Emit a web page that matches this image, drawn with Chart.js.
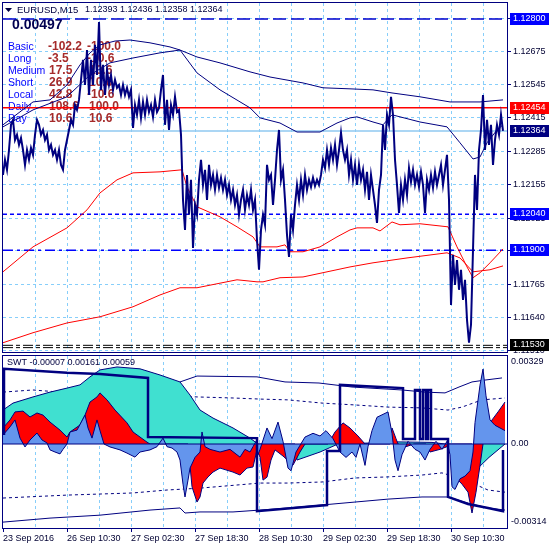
<!DOCTYPE html>
<html>
<head>
<meta charset="utf-8">
<script src="https://cdn.jsdelivr.net/npm/chart.js@4.4.1/dist/chart.umd.min.js"></script>
<style>
  body { margin: 0; background: #fff; }
  #wrap { position: relative; width: 550px; height: 550px; }
  canvas { position: absolute; left: 0; }
</style>
</head>
<body>
<div id="wrap">
  <canvas id="main" width="550" height="353" style="top:0"></canvas>
  <canvas id="sub" width="550" height="197" style="top:353px"></canvas>
</div>
<script>
// EURUSD M15, one close every 2 bars, bar 0 = 23 Sep 2016
const closeStep = 2;
const closes = [
  1.12193,1.12252,1.12213,1.12290,1.12388,1.12407,1.12329,1.12349,1.12310,1.12337,
  1.12290,1.12232,1.12290,1.12252,1.12298,1.12271,1.12349,1.12407,1.12388,1.12349,
  1.12368,1.12329,1.12349,1.12290,1.12310,1.12271,1.12290,1.12252,1.12290,1.12232,
  1.12213,1.12290,1.12329,1.12368,1.12407,1.12388,1.12465,1.12446,1.12485,1.12563,
  1.12641,1.12543,1.12679,1.12504,1.12641,1.12543,1.12699,1.12582,1.12788,1.12524,
  1.12621,1.12504,1.12602,1.12543,1.12582,1.12524,1.12563,1.12532,1.12543,1.12504,
  1.12543,1.12504,1.12532,1.12497,1.12524,1.12376,1.12465,1.12427,1.12485,1.12415,
  1.12477,1.12427,1.12485,1.12438,1.12465,1.12419,1.12485,1.12438,1.12454,1.12524,
  1.12582,1.12388,1.12485,1.12368,1.12465,1.12427,1.12497,1.12438,1.12446,1.12349,
  1.12096,1.11979,1.12193,1.12038,1.12174,1.11909,1.12076,1.12038,1.12174,1.12252,
  1.12154,1.12213,1.12096,1.12232,1.12154,1.12193,1.12135,1.12193,1.12143,1.12182,
  1.12135,1.12174,1.12115,1.12154,1.12096,1.12135,1.12076,1.12115,1.12038,1.12096,
  1.12135,1.12057,1.12115,1.12076,1.12135,1.12057,1.12096,1.11940,1.11824,1.11979,
  1.12038,1.11999,1.12232,1.12174,1.12193,1.12076,1.12174,1.12290,1.12368,1.12174,
  1.12213,1.12096,1.11960,1.11874,1.12038,1.11979,1.12076,1.12154,1.12096,1.12174,
  1.12115,1.12193,1.12135,1.12174,1.12146,1.12182,1.12150,1.12174,1.12154,1.12193,
  1.12252,1.12220,1.12290,1.12232,1.12298,1.12252,1.12310,1.12232,1.12290,1.12357,
  1.12290,1.12252,1.12290,1.12193,1.12252,1.12174,1.12232,1.12154,1.12232,1.12174,
  1.12213,1.12135,1.12205,1.12096,1.12193,1.12135,1.12076,1.12006,1.12135,1.12193,
  1.12388,1.12290,1.12427,1.12388,1.12497,1.12427,1.12252,1.12154,1.12045,1.12154,
  1.12096,1.12174,1.12115,1.12220,1.12166,1.12213,1.12154,1.12193,1.12146,1.12205,
  1.12154,1.12045,1.12174,1.12135,1.12193,1.12143,1.12205,1.12154,1.12193,1.12232,
  1.12154,1.12213,1.12271,1.12096,1.11687,1.11882,1.11765,1.11862,1.11746,1.11824,
  1.11707,1.11785,1.11629,1.11540,1.11610,1.11901,1.12193,1.12057,1.12290,1.12368,
  1.12504,1.12290,1.12407,1.12310,1.12388,1.12232,1.12329,1.12388,1.12349,1.12427,
  1.12364
];

const maFastBars = [0,30,47,64,77,87,97,112,127,147,167,177,194,217,247,257,277,294,317,334,347,354,370,380,389,417,444,457,470,477,484,494,500];
const maFastVals = [1.12388,1.12477,1.12485,1.12543,1.12621,1.12668,1.12699,1.12714,1.12718,1.12707,1.12691,1.12679,1.12590,1.12524,1.12454,1.12415,1.12395,1.12360,1.12360,1.12395,1.12415,1.12419,1.12399,1.12388,1.12427,1.12399,1.12380,1.12318,1.12255,1.12263,1.12318,1.12368,1.12388];
const maSlowBars = [0,30,64,87,107,130,157,177,194,217,247,267,300,320,347,370,389,417,447,477,500];
const maSlowVals = [1.12380,1.12446,1.12497,1.12582,1.12629,1.12648,1.12668,1.12679,1.12652,1.12629,1.12594,1.12574,1.12551,1.12532,1.12528,1.12524,1.12512,1.12497,1.12477,1.12477,1.12485];
const redFastBars = [0,30,64,84,97,114,130,157,179,184,194,217,234,250,257,274,282,287,300,317,334,347,354,370,377,389,397,417,445,454,464,470,477,487,500];
const redFastVals = [1.11816,1.11913,1.11987,1.12057,1.12123,1.12174,1.12201,1.12205,1.12213,1.12146,1.12069,1.12030,1.11991,1.11952,1.11913,1.11913,1.11921,1.11894,1.11894,1.11913,1.11952,1.11979,1.11987,1.11987,1.11975,1.12010,1.11999,1.12003,1.11991,1.11913,1.11835,1.11793,1.11812,1.11851,1.11905];
const redSlowBars = [0,30,64,97,130,157,177,194,234,254,260,277,300,347,370,404,444,457,470,487,500];
const redSlowVals = [1.11540,1.11579,1.11617,1.11641,1.11680,1.11726,1.11754,1.11754,1.11785,1.11777,1.11777,1.11793,1.11796,1.11835,1.11851,1.11870,1.11890,1.11870,1.11816,1.11824,1.11839];

const priceTicks = [1.12800,1.12675,1.12545,1.12415,1.12285,1.12155,1.12025,1.11900,1.11765,1.11640,1.11510];
const levels = [1.12800,1.12454,1.12364,1.12040,1.11900,1.11530];
const quote = [1.12393,1.12436,1.12358,1.12364];
const spread = 0.00497;
const tableNames = ['Basic','Long','Medium','Short','Local','Daily','Day'];
const tableA = [-102.2,-3.5,17.5,26.9,42.8,108.6,10.6];
const tableB = [-100.0,-10.6,10.6,10.6,-10.6,100.0,10.6];

// SWT sub window
const swtValues = [-0.00007,0.00161,0.00059];
const swtTicks = [0.00329,0,-0.00314];
const tealBars = [0,10,30,47,64,77,87,97,114,137,157,177,187,197,210,230,247,255,292,294,317,335,369,392,429,442,469,470,486,502];
const tealVals = [0.00127,0.00153,0.00176,0.00194,0.00209,0.00221,0.00251,0.00277,0.00288,0.00281,0.00258,0.00232,0.00183,0.00127,0.00097,0.00060,0.00022,0,0,-0.0006,-0.0003,0,0.00004,0.00008,0.00006,0,0,-0.00108,-0.0005,0];
const redBars = [0,7,12,20,27,34,40,47,57,64,67,77,82,87,94,97,104,112,124,130,144,147,185,189,194,197,200,205,210,217,230,237,244,250,254,257,260,264,268,272,280,290,297,302,325,332,340,347,355,362,387,389,393,395,403,411,423,427,437,444,447,452,459,465,469,473,477,480,485,489,495,502];
const redVals = [0.00060,0.00090,0.00120,0.00123,0.00101,0.00116,0.00108,0.00082,0.00052,0.00026,0.00045,0.00071,0.00108,0.00157,0.00176,0.00191,0.00165,0.00127,0.00079,0.00045,0.00007,0,0,-0.0016,-0.00217,-0.00198,-0.00146,-0.00123,-0.00105,-0.00090,-0.00105,-0.00116,-0.00090,-0.00086,-0.00022,-0.00049,-0.00135,-0.00124,-0.00060,-0.00022,-0.00045,-0.00079,-0.00030,0,0,0.00045,0.00079,0.00060,0.00030,0,0,0.00060,0.0002,0,-0.0001,0,0,-0.0003,-0.0002,-0.0001,0,-0.00123,-0.0015,-0.0018,-0.00258,-0.0018,-0.0008,0,0.0006,0.0009,0.0012,0.00157];
const blueBars = [0,7,12,17,22,27,34,39,44,47,52,57,60,64,67,74,82,85,89,94,97,101,107,117,124,132,137,147,154,160,164,169,174,177,180,182,185,187,192,197,199,202,207,217,227,237,242,247,250,253,255,257,264,269,275,280,285,288,293,302,310,317,323,330,337,343,349,353,357,362,365,369,374,385,389,392,395,399,405,412,417,422,427,433,439,444,447,449,452,457,462,467,470,472,477,480,483,487,492,497,502];
const blueVals = [0.00034,0.00064,0.00090,0.00022,-0.00011,0.00015,0.00041,0.00015,0.00004,-0.00022,-0.0003,-0.00037,-0.0002,0,0.00045,0.00052,0.00108,0.0006,0.00022,0.0009,0.0005,0,-0.00011,-0.00022,-0.00034,-0.00049,-0.0003,-0.00022,-0.0001,0.00022,-0.0001,-0.00015,-0.0003,-0.0006,-0.0015,-0.00198,-0.00135,-0.0009,-0.0005,-0.0003,0.00045,-0.0001,-0.0002,-0.0003,-0.0002,-0.00049,-0.0002,-0.0003,-0.0001,0.0001,-0.0004,-0.0002,0.0006,0.0002,0.00082,0.0001,-0.0009,-0.0010,-0.0003,0.00026,0.0004,0.0003,0.0005,0.0002,-0.0003,-0.0005,-0.0003,-0.0005,0,-0.0008,-0.0001,0.0005,0.0010,0.0012,0.0004,-0.0006,-0.0010,-0.0004,0.0001,-0.0002,-0.0003,-0.0006,-0.0002,0.0001,-0.0002,0.0001,-0.0004,-0.0016,-0.0017,-0.0013,-0.0012,-0.0010,-0.0003,0.0008,0.0022,0.0028,0.0018,0.0009,0.0007,0.0006,0.0005];
const stepBars = [1,1,64,97,145,145,254,254,324,324,337,337,400,400,412,412,417,417,420,420,423,423,425,425,428,428,445,445,465,485,500,500];
const stepVals = [0.00034,0.00281,0.00266,0.00262,0.00247,0.00026,0.00022,-0.00251,-0.00228,-0.00026,-0.00026,0.00221,0.00209,0.00019,0.00019,0.00202,0.00202,0.00019,0.00019,0.00202,0.00202,0.00019,0.00019,0.00202,0.00202,0.00019,0.00019,-0.00198,-0.00224,-0.00239,-0.00251,-0.00022];
const upBandBars = [177,194,254,282,316,349,399,422,442,456,469,482,499];
const upBandVals = [0.00232,0.00254,0.00251,0.00232,0.00228,0.00213,0.00202,0.00194,0.00191,0.00213,0.00232,0.00239,0.00247];
const upDashBars = [0,30,57,120,160,194,230,257,285,319,352,385,419,445,459,479,502];
const upDashVals = [0.00194,0.00202,0.00194,0.00187,0.00180,0.00176,0.00172,0.00168,0.00165,0.00153,0.00146,0.00138,0.00135,0.00127,0.00138,0.00165,0.00172];
const lowDashBars = [0,64,130,164,197,257,285,319,352,385,419,439,452,469,485,502];
const lowDashVals = [-0.00202,-0.00191,-0.00183,-0.00172,-0.00165,-0.00146,-0.00146,-0.00142,-0.00127,-0.00123,-0.00116,-0.00108,-0.00123,-0.00146,-0.00172,-0.00180];
const lowBandBars = [0,47,97,147,177,182,197,230,257,285,319,352,385,419,445,465,485,502];
const lowBandVals = [-0.00292,-0.00277,-0.00266,-0.00247,-0.00239,-0.00258,-0.00254,-0.00254,-0.00247,-0.00239,-0.00228,-0.00217,-0.00206,-0.00198,-0.00198,-0.00221,-0.00239,-0.00247];

const gridBars = [0,32,64,96,128,160,192,224,256,288,320,352,384,416,448,480];
const xLabelBars = [0,64,128,192,256,320,384,448];
const xLabels = ['23 Sep 2016','26 Sep 10:30','27 Sep 02:30','27 Sep 18:30','28 Sep 10:30','29 Sep 02:30','29 Sep 18:30','30 Sep 10:30'];

const NAVY = '#000080';
const GRID = '#87cefa';
const FONT = '"Liberation Sans", Arial, sans-serif';

const pts = (bars, vals) => bars.map((b, i) => ({ x: b, y: vals[i] }));
const flat = (v) => [{ x: 0, y: v }, { x: 504, y: v }];

const frame = {
  id: 'frame',
  afterDraw(chart) {
    const { ctx, chartArea: a } = chart;
    ctx.save();
    ctx.strokeStyle = NAVY;
    ctx.lineWidth = 1;
    ctx.strokeRect(a.left - 0.5, a.top - 0.5, a.right - a.left + 1, a.bottom - a.top + 1);
    ctx.restore();
  }
};

const mainText = {
  id: 'mainText',
  beforeDatasetsDraw(chart) {
    const ctx = chart.ctx;
    ctx.save();
    ctx.textBaseline = 'middle';
    ctx.font = 'bold 14px ' + FONT;
    ctx.fillStyle = '#000050';
    ctx.fillText(spread.toFixed(5), 12, 25);
    tableNames.forEach((n, i) => {
      const ty = 47 + i * 12;
      ctx.font = '10.5px ' + FONT;
      ctx.fillStyle = '#0000ff';
      ctx.fillText(n, 8, ty);
      ctx.font = 'bold 12px ' + FONT;
      ctx.fillStyle = '#a52a2a';
      ctx.fillText(tableA[i].toFixed(1), tableA[i] < 0 ? 48 : 49, ty);
      ctx.fillText(tableB[i].toFixed(1), tableB[i] < 0 ? 87 : 89, ty);
    });
    ctx.restore();
  },
  afterDraw(chart) {
    const ctx = chart.ctx;
    const y = chart.scales.y;
    ctx.save();
    ctx.fillStyle = '#000040';
    ctx.beginPath();
    ctx.moveTo(5, 8); ctx.lineTo(12, 8); ctx.lineTo(8.5, 12); ctx.closePath();
    ctx.fill();
    ctx.font = '9.5px ' + FONT;
    ctx.textBaseline = 'middle';
    ctx.fillText('EURUSD,M15', 17, 10);
    ctx.font = '9px ' + FONT;
    quote.forEach((q, i) => ctx.fillText(q.toFixed(5), 85 + i * 35, 10));
    // price labels on the axis
    const boxColors = ['#0000ff', '#ff0000', '#000080', '#0000ff', '#0000ff', '#000000'];
    levels.forEach((lv, i) => {
      const py = Math.round(y.getPixelForValue(lv));
      ctx.fillStyle = boxColors[i];
      ctx.fillRect(510, py - 6, 39, 12);
      ctx.fillStyle = '#ffffff';
      ctx.fillText(lv.toFixed(5), 513, py);
    });
    ctx.restore();
  }
};

const subText = {
  id: 'subText',
  afterDatasetsDraw(chart) {
    const ctx = chart.ctx;
    ctx.save();
    ctx.font = '9px ' + FONT;
    ctx.fillStyle = '#000040';
    ctx.textBaseline = 'middle';
    ctx.fillText('SWT ' + swtValues.map(v => v.toFixed(5)).join(' '), 7, 10);
    ctx.restore();
  },
  afterDraw(chart) {
    const ctx = chart.ctx;
    const y = chart.scales.y;
    ctx.save();
    ctx.font = '9px ' + FONT;
    ctx.fillStyle = '#000033';
    ctx.textBaseline = 'middle';
    const off = [6, 0, -6];
    swtTicks.forEach((v, i) => {
      ctx.fillText(v === 0 ? '0.00' : v.toFixed(5), 511, y.getPixelForValue(v) + off[i]);
    });
    ctx.restore();
  }
};

const lineDs = (data, color, width, order, dash) => ({
  data, borderColor: color, borderWidth: width, borderDash: dash || [], fill: false, order
});

new Chart(document.getElementById('main').getContext('2d'), {
  type: 'line',
  data: {
    datasets: [
      lineDs(closes.map((c, i) => ({ x: i * closeStep, y: c })), NAVY, 2, 1),
      lineDs(pts(maFastBars, maFastVals), NAVY, 1, 3),
      lineDs(pts(maSlowBars, maSlowVals), NAVY, 1, 3),
      lineDs(pts(redFastBars, redFastVals), '#ff0000', 1, 3),
      lineDs(pts(redSlowBars, redSlowVals), '#ff0000', 1, 3),
      lineDs(flat(levels[0]), '#0000cd', 1.5, 6, [13, 5]),
      lineDs(flat(levels[1]), '#ff0000', 1.5, 6),
      lineDs(flat(levels[2]), '#8fc8f0', 1.5, 6),
      lineDs(flat(levels[3]), '#0000ff', 1.5, 6, [4, 3]),
      lineDs(flat(levels[4]), '#0000ff', 1.5, 6, [10, 4, 3, 4]),
      lineDs(flat(levels[5]), '#000000', 1, 6, [10, 3, 4, 3]),
      lineDs(flat(levels[5] - 0.00009), '#000000', 1, 6, [10, 3, 4, 3])
    ]
  },
  options: {
    responsive: false,
    animation: false,
    devicePixelRatio: 1,
    layout: { padding: { left: 3, top: 3, right: 0, bottom: 1 } },
    elements: { point: { radius: 0 }, line: { tension: 0 } },
    plugins: { legend: { display: false }, tooltip: { enabled: false } },
    scales: {
      x: {
        type: 'linear', min: 0, max: 504,
        afterBuildTicks: s => { s.ticks = gridBars.filter(v => v > 0).map(v => ({ value: v })); },
        afterFit: s => { s.height = 0; s.paddingLeft = 0; s.paddingRight = 0; },
        ticks: { display: false },
        grid: { color: GRID, drawTicks: false },
        border: { display: false, dash: [3, 3] }
      },
      y: {
        position: 'right', min: 1.11504, max: 1.12862,
        afterBuildTicks: s => { s.ticks = priceTicks.map(v => ({ value: v })); },
        afterFit: s => { s.width = 43; s.paddingTop = 0; s.paddingBottom = 0; },
        ticks: { autoSkip: false, padding: 2, color: '#000033', font: { family: FONT, size: 9 }, callback: v => v.toFixed(5) },
        grid: { color: GRID, tickColor: NAVY, tickLength: 4, tickBorderDash: [] },
        border: { display: false, dash: [3, 3] }
      }
    }
  },
  plugins: [mainText, frame]
});

new Chart(document.getElementById('sub').getContext('2d'), {
  type: 'line',
  data: {
    datasets: [
      { data: pts(tealBars, tealVals), borderColor: NAVY, borderWidth: 1, backgroundColor: '#40e0d0', fill: 'origin', order: 12 },
      { data: pts(redBars, redVals), borderColor: NAVY, borderWidth: 1, backgroundColor: '#ff0000', fill: 'origin', order: 11 },
      { data: pts(blueBars, blueVals), borderColor: NAVY, borderWidth: 1, backgroundColor: '#6495ed', fill: 'origin', order: 10 },
      lineDs(pts(upBandBars, upBandVals), NAVY, 1, 20),
      lineDs(pts(upDashBars, upDashVals), NAVY, 1, 20, [3, 3]),
      lineDs(pts(lowDashBars, lowDashVals), NAVY, 1, 20, [3, 3]),
      lineDs(pts(lowBandBars, lowBandVals), NAVY, 1, 20),
      lineDs(flat(0), NAVY, 1, 5),
      lineDs(pts(stepBars, stepVals), NAVY, 2.5, 1)
    ]
  },
  options: {
    responsive: false,
    animation: false,
    devicePixelRatio: 1,
    layout: { padding: { left: 3, top: 3, right: 0, bottom: 0 } },
    elements: { point: { radius: 0 }, line: { tension: 0 } },
    plugins: { legend: { display: false }, tooltip: { enabled: false } },
    scales: {
      x: {
        type: 'linear', min: 0, max: 504,
        afterBuildTicks: s => { s.ticks = gridBars.map(v => ({ value: v })); },
        afterFit: s => { s.height = 22; s.paddingLeft = 0; s.paddingRight = 0; },
        ticks: {
          autoSkip: false, maxRotation: 0, minRotation: 0, align: 'start', padding: 1,
          color: '#000033', font: { family: FONT, size: 9 },
          callback: v => { const k = xLabelBars.indexOf(v); return k < 0 ? '' : xLabels[k]; }
        },
        grid: {
          color: c => (c.tick && c.tick.value === 0 ? 'rgba(0,0,0,0)' : GRID),
          tickColor: c => (c.tick && xLabelBars.includes(c.tick.value) ? NAVY : 'rgba(0,0,0,0)'),
          tickLength: 4, tickBorderDash: []
        },
        border: { display: false, dash: [3, 3] }
      },
      y: {
        position: 'right', min: -0.00314, max: 0.00329,
        afterFit: s => { s.width = 43; s.paddingTop = 0; s.paddingBottom = 0; },
        ticks: { display: false },
        grid: { display: false },
        border: { display: false }
      }
    }
  },
  plugins: [subText, frame]
});
</script>
</body>
</html>
